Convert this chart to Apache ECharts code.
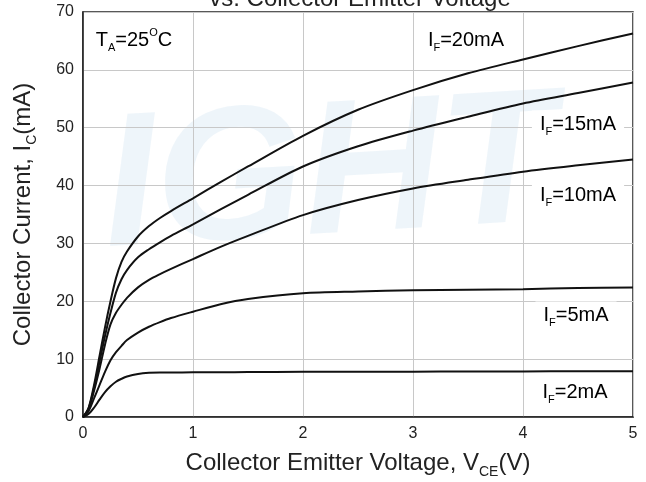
<!DOCTYPE html>
<html>
<head>
<meta charset="utf-8">
<script src="https://cdn.jsdelivr.net/npm/echarts@6/dist/echarts.min.js"></script>
<style>
html, body { margin: 0; padding: 0; background: #fff; }
#chart { width: 646px; height: 482px; }
</style>
</head>
<body>
<div id="chart"></div>
<script>
// collector-emitter voltage (V), shared by all curves
var vce = [0, 0.05, 0.1, 0.15, 0.2, 0.25, 0.3, 0.35, 0.4, 0.5, 0.6, 0.7, 0.8, 1, 1.25, 1.5, 2, 2.5, 3, 3.5, 4, 4.5, 5];
// collector current (mA) for each forward current
var if20 = [0, 1.5, 5.5, 10.5, 15.5, 20, 24, 26.8, 28.6, 31.2, 33, 34.4, 35.6, 37.8, 40.6, 43.3, 48.6, 53.1, 56.5, 59.4, 61.8, 64.1, 66.3];
var if15 = [0, 1.5, 5, 9.5, 14, 18, 21.5, 23.8, 25.4, 27.6, 29, 30.2, 31.3, 33.3, 35.9, 38.4, 43.3, 46.8, 49.5, 51.9, 54.2, 56, 57.8];
var if10 = [0, 1.3, 4.5, 8.3, 12.5, 16, 18, 19.4, 20.6, 22.4, 23.7, 24.7, 25.6, 27.3, 29.4, 31.3, 34.9, 37.5, 39.5, 41, 42.4, 43.5, 44.5];
var if5 = [0, 1, 3.2, 5.5, 7.8, 9.8, 11.2, 12.3, 13.3, 14.6, 15.6, 16.4, 17.1, 18.2, 19.5, 20.4, 21.4, 21.7, 21.9, 22, 22.1, 22.3, 22.4];
var if2 = [0, 0.5, 1.6, 3, 4.3, 5.3, 6.1, 6.6, 7, 7.45, 7.65, 7.7, 7.7, 7.72, 7.74, 7.76, 7.8, 7.82, 7.84, 7.86, 7.88, 7.9, 7.9];
var seriesNames = ['IF=20mA', 'IF=15mA', 'IF=10mA', 'IF=5mA', 'IF=2mA'];

var FONT = '"Liberation Sans", Arial, sans-serif';

function pairs(ys) {
    return vce.map(function (x, i) { return [x, ys[i]]; });
}

var chart = echarts.init(document.getElementById('chart'));

var subRich = {
    n: { fontSize: 24, fontFamily: FONT, color: '#222' },
    s: { fontSize: 14, fontFamily: FONT, color: '#222', padding: [18, 0, 0, 0] }
};
var labRich = {
    n: { fontSize: 20, fontFamily: FONT, color: '#111' },
    s: { fontSize: 11, fontFamily: FONT, color: '#111', padding: [16, 0, 0, 0] },
    u: { fontSize: 11, fontFamily: FONT, color: '#111', padding: [0, 0, 14, 0] }
};

function label(x, y, text) {
    return {
        type: 'text',
        x: x,
        y: y,
        z: 50,
        style: {
            text: text,
            rich: labRich,
            align: 'center',
            verticalAlign: 'middle',
            backgroundColor: '#fff',
            padding: [0, 8]
        }
    };
}

var option = {
    animation: false,
    backgroundColor: '#fff',
    grid: {
        left: 83,
        right: 13,
        top: 12,
        bottom: 65,
        outerBoundsMode: 'none',
        show: true,
        borderColor: '#222',
        borderWidth: 1.5
    },
    xAxis: {
        type: 'value',
        min: 0,
        max: 5,
        interval: 1,
        name: '{n|Collector Emitter Voltage, V}{s|CE}{n|(V)}',
        nameLocation: 'middle',
        nameGap: 30,
        nameTextStyle: { rich: subRich },
        axisLine: { show: true, lineStyle: { color: '#222', width: 1.5 } },
        axisTick: { show: false },
        axisLabel: { fontSize: 16, fontFamily: FONT, color: '#222', margin: 9 },
        splitLine: { show: true, lineStyle: { color: '#c8c8c8', width: 1 } }
    },
    yAxis: {
        type: 'value',
        min: 0,
        max: 70,
        interval: 10,
        name: '{n|Collector Current, I}{s|C}{n|(mA)}',
        nameLocation: 'middle',
        nameGap: 44,
        nameRotate: 90,
        nameTextStyle: { rich: subRich },
        axisLine: { show: true, lineStyle: { color: '#222', width: 1.5 } },
        axisTick: { show: false },
        axisLabel: { fontSize: 16, fontFamily: FONT, color: '#222', margin: 9 },
        splitLine: { show: true, lineStyle: { color: '#c8c8c8', width: 1 } }
    },
    graphic: [
        {
            type: 'text',
            x: 330,
            y: 180,
            z: -10,
            rotation: 0.06,
            style: {
                text: 'IGHT',
                fontSize: 190,
                fontWeight: 900,
                fontStyle: 'italic',
                fontFamily: FONT,
                fill: 'rgba(205,225,242,0.35)',
                align: 'center',
                verticalAlign: 'middle'
            }
        },
        {
            type: 'text',
            x: 360,
            y: 11,
            style: {
                text: 'vs. Collector Emitter Voltage',
                fontSize: 24,
                fontFamily: FONT,
                fill: '#222',
                align: 'center',
                verticalAlign: 'bottom'
            }
        },
        label(134, 40, '{n|T}{s|A}{n|=25}{u|O}{n|C}'),
        label(466, 40, '{n|I}{s|F}{n|=20mA}'),
        label(578, 124, '{n|I}{s|F}{n|=15mA}'),
        label(578, 195, '{n|I}{s|F}{n|=10mA}'),
        label(576, 315, '{n|I}{s|F}{n|=5mA}'),
        label(575, 392, '{n|I}{s|F}{n|=2mA}')
    ],
    series: [if20, if15, if10, if5, if2].map(function (ys, i) {
        return {
            name: seriesNames[i],
            type: 'line',
            data: pairs(ys),
            smooth: 0.3,
            showSymbol: false,
            lineStyle: { color: '#111', width: 2 }
        };
    })
};

chart.setOption(option);
</script>
</body>
</html>
